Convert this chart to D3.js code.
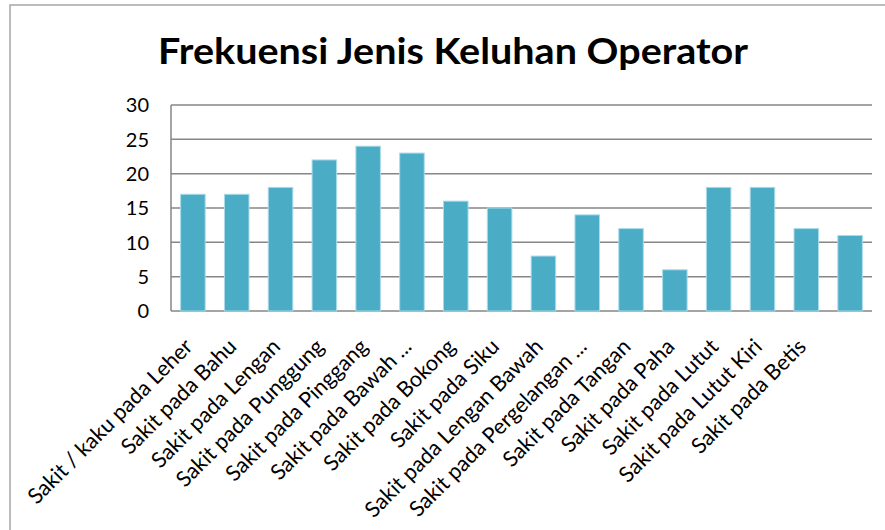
<!DOCTYPE html>
<html>
<head>
<meta charset="utf-8">
<script src="https://cdn.jsdelivr.net/npm/d3@7"></script>
<style>
    body { margin: 0; background: #fff; }
    text { font-family: Lato, 'Open Sans', sans-serif; }
</style>
</head>
<body>
<div class="chart"><svg></svg></div>
<script>
// 16 bars; the last bar has no label in the original chart
const categories = [
    'Sakit / kaku pada Leher',
    'Sakit pada Bahu',
    'Sakit pada Lengan',
    'Sakit pada Punggung',
    'Sakit pada Pinggang',
    'Sakit pada Bawah ...',
    'Sakit pada Bokong',
    'Sakit pada Siku',
    'Sakit pada Lengan Bawah',
    'Sakit pada Pergelangan ...',
    'Sakit pada Tangan',
    'Sakit pada Paha',
    'Sakit pada Lutut',
    'Sakit pada Lutut Kiri',
    'Sakit pada Betis',
    ''
];
const values = [17, 17, 18, 22, 24, 23, 16, 15, 8, 14, 12, 6, 18, 18, 12, 11];
const yTicks = [0, 5, 10, 15, 20, 25, 30];
const title = 'Frekuensi Jenis Keluhan Operator';

const width = 885;
const height = 530;
const plot = { left: 171, right: 872, top: 105, bottom: 311 };

const svg = d3.select('.chart').select('svg')
    .attr('width', width)
    .attr('height', height);

// outer frame (only top and left edges fall inside the picture)
svg.append('path')
    .attr('d', `M10,${height} L10,5 L${width},5`)
    .attr('fill', 'none')
    .attr('stroke', '#a6a6a6')
    .attr('stroke-width', 1.5);

svg.append('text')
    .attr('x', 453)
    .attr('y', 64)
    .attr('text-anchor', 'middle')
    .attr('font-size', 36)
    .attr('font-weight', 'bold')
    .attr('fill', '#000')
    .attr('textLength', 590)
    .attr('lengthAdjust', 'spacingAndGlyphs')
    .text(title);

const x = d3.scaleBand()
    .domain(d3.range(categories.length))
    .range([plot.left, plot.right])
    .paddingInner(0.44)
    .paddingOuter(0.22);

const y = d3.scaleLinear()
    .domain([0, 30])
    .range([plot.bottom, plot.top]);

// gridlines
svg.append('g')
    .selectAll('line')
    .data(yTicks)
    .enter()
    .append('line')
    .attr('x1', plot.left)
    .attr('x2', plot.right)
    .attr('y1', d => y(d))
    .attr('y2', d => y(d))
    .attr('stroke', '#868686')
    .attr('stroke-width', 1.5);

// y axis line
svg.append('line')
    .attr('x1', plot.left)
    .attr('x2', plot.left)
    .attr('y1', plot.top)
    .attr('y2', plot.bottom)
    .attr('stroke', '#868686')
    .attr('stroke-width', 1.5);

svg.append('g')
    .selectAll('text')
    .data(yTicks)
    .enter()
    .append('text')
    .attr('x', plot.left - 22)
    .attr('y', d => y(d))
    .attr('dy', '0.36em')
    .attr('text-anchor', 'end')
    .attr('font-size', 20)
    .attr('fill', '#000')
    .text(d => d);

svg.append('g')
    .selectAll('rect')
    .data(values)
    .enter()
    .append('rect')
    .attr('x', (d, i) => x(i))
    .attr('y', d => y(d))
    .attr('width', x.bandwidth())
    .attr('height', d => y(0) - y(d))
    .attr('fill', '#4bacc6')
    .attr('stroke', '#a9dbe8')
    .attr('stroke-width', 1);

svg.append('g')
    .selectAll('text')
    .data(categories)
    .enter()
    .append('text')
    .attr('transform', (d, i) => `translate(${x(i) + x.bandwidth() / 2 + 1},${plot.bottom + 37}) rotate(-45)`)
    .attr('text-anchor', 'end')
    .attr('font-size', 21.7)
    .attr('fill', '#000')
    .text(d => d);
</script>
</body>
</html>
